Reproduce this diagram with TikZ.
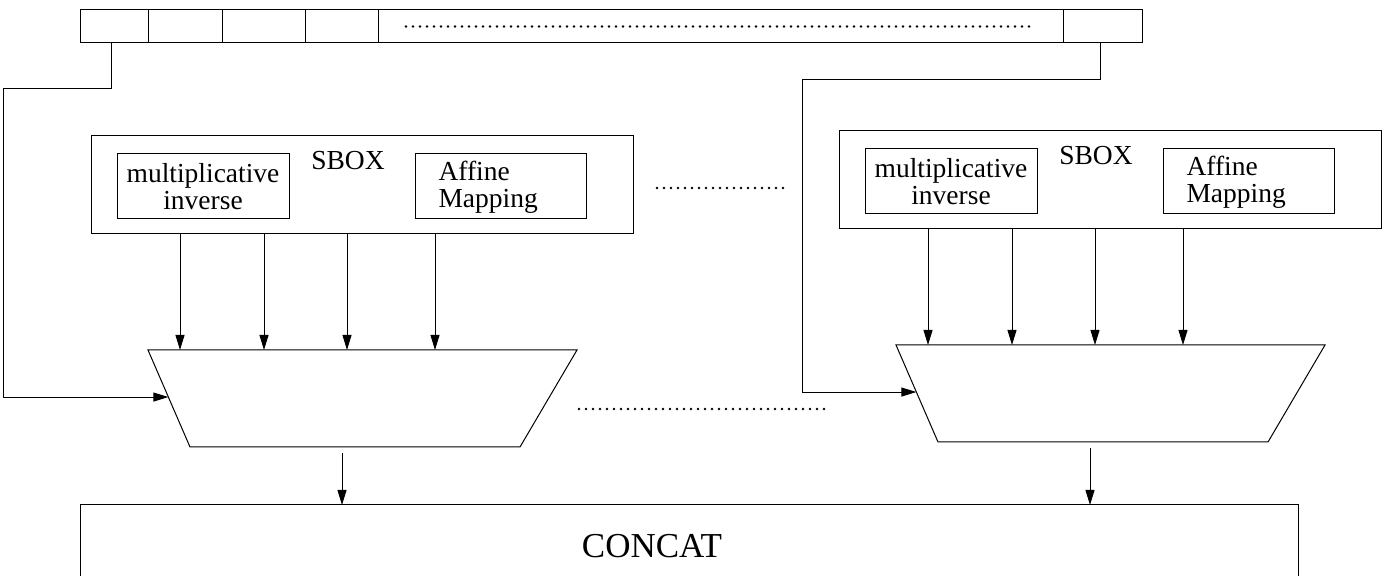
\documentclass[tikz,border=0pt]{standalone}
\usepackage{fontspec}
\setmainfont{Liberation Serif}
\usetikzlibrary{arrows.meta,calc}
\begin{document}
\begin{tikzpicture}[x=0.5pt,y=-0.5pt,
  line width=0.5pt,
  cell/.style={draw,inner sep=0pt,outer sep=0pt,minimum height=16.5pt},
  box/.style={draw,inner sep=0pt,outer sep=0pt},
  ghost/.style={inner sep=0pt,outer sep=0pt},
  lbl/.style={font=\fontsize{13.75pt}{13.5pt}\selectfont,align=center,inner sep=0pt},
  arr/.style={-{Triangle[length=7.5pt,width=4.5pt]}},
  dotline/.style={line width=1.3pt,line cap=round,dash pattern=on 0pt off 3.5pt},
]
\useasboundingbox (0,0) rectangle (1387,576);

% input register
\node[cell,minimum width=34pt]    (c1) at (114,26.5) {};
\node[cell,minimum width=37pt]    (c2) at (185,26.5) {};
\node[cell,minimum width=41.5pt]  (c3) at (263.5,26.5) {};
\node[cell,minimum width=36.5pt]  (c4) at (341.5,26.5) {};
\node[cell,minimum width=342.5pt] (c5) at (720.5,26.5) {};
\node[cell,minimum width=39.5pt]  (c6) at (1102.5,26.5) {};
\draw[dotline] ([xshift=14pt]c5.west) -- ([xshift=-16pt]c5.east);

% output concatenation
\node[box,minimum width=609pt,minimum height=50pt] (concat) at (689,555) {};
\node[font=\fontsize{17.5pt}{20pt}\selectfont,inner sep=0pt] (concatt) at (652,546) {CONCAT};

% two S-box lanes
\foreach \i/\dx/\dy in {1/0/0,2/748/-5}{
  \begin{scope}[shift={(\dx,\dy)}]
    \node[box,minimum width=271pt,minimum height=49pt] (sb\i) at (362,185) {};
    \node[box,minimum width=86pt,minimum height=32.5pt] (mi\i) at (203,186.5) {};
    \node[lbl] (mit\i) at (mi\i) {multiplicative\\inverse};
    \node[box,minimum width=85.5pt,minimum height=32.5pt] (am\i) at (500.5,186.5) {};
    \node[lbl,align=left,anchor=west] (amt\i) at (438,187) {Affine\\Mapping};
    \node[lbl] (sbt\i) at (348,161) {SBOX};
    % multiplexer
    \node[ghost,minimum width=214.5pt,minimum height=48.5pt] (mx\i) at (362.5,398.5) {};
    \draw (mx\i.north west) -- (mx\i.north east) -- ([xshift=-28.5pt]mx\i.south east)
          -- ([xshift=21pt]mx\i.south west) -- cycle;
    \coordinate (in\i) at ($(mx\i.north west)!0.485!([xshift=21pt]mx\i.south west)$);
    \foreach \o in {-91,-49,-7.5,36.5}
      \draw[arr] ([xshift=\o pt]sb\i.south) -- ([xshift=\o pt]sb\i.south |- mx\i.north);
    \coordinate (out\i) at ([xshift=-10.25pt,yshift=-3pt]mx\i.south);
    \draw[arr] (out\i) -- (out\i |- concat.north);
  \end{scope}
}

% select lines from the register
\coordinate (bendL) at (3,89);
\coordinate (bendR) at (802,80);
\draw[arr] ([xshift=-1.5pt]c1.south) |- (bendL) |- (in1);
\draw[arr] ([xshift=-1.25pt]c6.south) |- (bendR) |- (in2);

% omitted lanes
\draw[dotline] (657,188) -- (790,188);
\draw[dotline] (579,409) -- (830,409);
\end{tikzpicture}
\end{document}
